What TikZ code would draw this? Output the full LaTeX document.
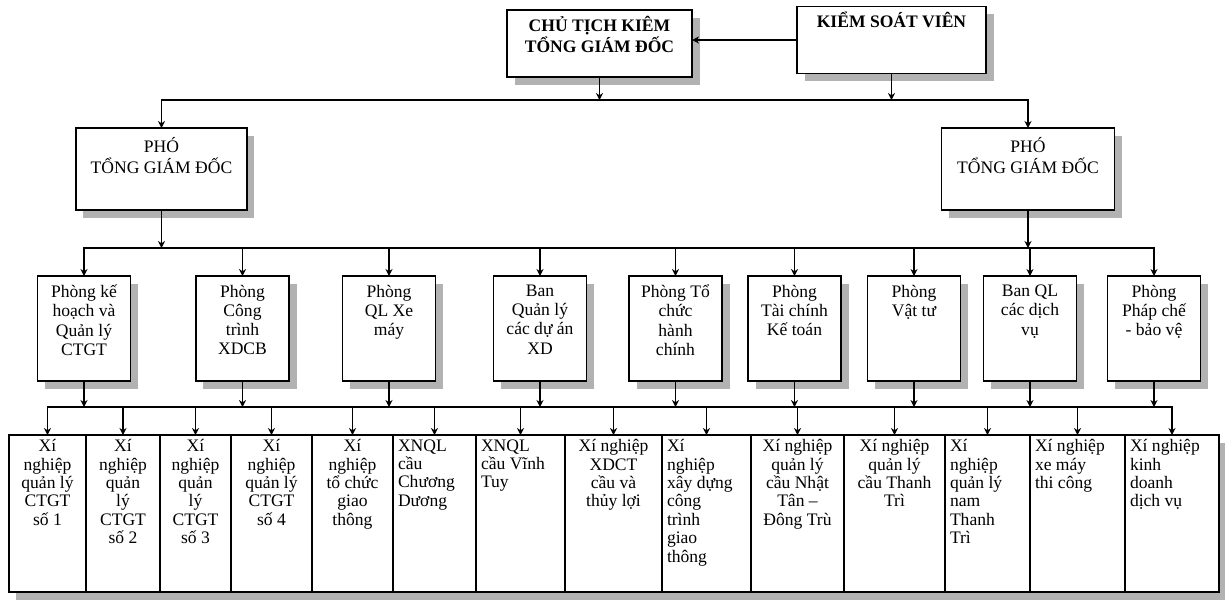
\documentclass[tikz,border=0pt]{standalone}
\usepackage{fontspec}
\setmainfont{Liberation Serif}
\usetikzlibrary{arrows.meta,shadows}
\newlength\px
\setlength\px{0.02cm}
\def\boxpad{4pt}
\newcommand{\ctext}[3]{\begin{minipage}[t][#2\px][t]{#1\px}\centering\vspace*{\boxpad}#3\end{minipage}}
\newcommand{\ltext}[3]{\begin{minipage}[t][#2\px][t]{#1\px}\raggedright\leftskip=5\px\vspace*{\boxpad}#3\end{minipage}}
\tikzset{
  every node/.style={inner sep=0pt,outer sep=0pt},
  orgbox/.style={draw,line width=1pt,fill=white,
    drop shadow={shadow xshift=0.15cm,shadow yshift=-0.15cm,fill=black!30,opacity=1}},
  headbox/.style={orgbox,font=\fontsize{10}{12}\selectfont\bfseries,
    execute at begin node={\def\boxpad{3.3pt}}},
  phobox/.style={orgbox,font=\fontsize{10}{11.5}\selectfont,
    execute at begin node={\def\boxpad{5.6pt}}},
  midbox/.style={orgbox,font=\fontsize{10}{11}\selectfont,
    execute at begin node={\def\boxpad{5pt}}},
  botbox/.style={orgbox,anchor=north west,font=\fontsize{10}{10.5}\selectfont,
    execute at begin node={\def\boxpad{2.5pt}}},
  bus/.style={line width=0.9pt,line cap=rect},
  arr/.style={-{Stealth[length=4pt,width=4pt]},line width=0.9pt},
}
\begin{document}
\begin{tikzpicture}[x=0.02cm,y=-0.02cm]
\useasboundingbox (0,0) rectangle (1225,600);
% top level
\node[headbox] (chutich) at (599.5,43.5) {\ctext{185}{67}{CHỦ TỊCH KIÊM\\TỔNG GIÁM ĐỐC}};
\node[headbox] (ksv) at (891.5,40) {\ctext{189}{67}{KIỂM SOÁT VIÊN}};
\node[phobox] (phoL) at (161.5,169) {\ctext{171}{82}{PHÓ\\TỔNG GIÁM ĐỐC}};
\node[phobox] (phoR) at (1028,169) {\ctext{173}{82}{PHÓ\\TỔNG GIÁM ĐỐC}};
% departments
\node[midbox] (m1) at (84,328.5) {\ctext{93}{105}{Phòng kế\\hoạch và\\Quản lý\\CTGT}};
\node[midbox] (m2) at (242.5,328.5) {\ctext{93}{105}{Phòng\\Công\\trình\\XDCB}};
\node[midbox] (m3) at (389,328.5) {\ctext{93}{105}{Phòng\\QL Xe\\máy}};
\node[midbox] (m4) at (540,328.5) {\ctext{93}{105}{Ban\\Quản lý\\các dự án\\XD}};
\node[midbox] (m5) at (675.5,328.5) {\ctext{93}{105}{Phòng Tổ\\chức\\hành\\chính}};
\node[midbox] (m6) at (794.5,328.5) {\ctext{93}{105}{Phòng\\Tài chính\\Kế toán}};
\node[midbox] (m7) at (914,328.5) {\ctext{93}{105}{Phòng\\Vật tư}};
\node[midbox] (m8) at (1030,328.5) {\ctext{93}{105}{Ban QL\\các dịch\\vụ}};
\node[midbox] (m9) at (1154,328.5) {\ctext{93}{105}{Phòng\\Pháp chế\\- bảo vệ}};
% enterprises
\node[botbox] (b1) at (9,435) {\ctext{77}{157}{Xí\\nghiệp\\quản lý\\CTGT\\số 1}};
\node[botbox] (b2) at (86,435) {\ctext{74}{157}{Xí\\nghiệp\\quản\\lý\\CTGT\\số 2}};
\node[botbox] (b3) at (160,435) {\ctext{71}{157}{Xí\\nghiệp\\quản\\lý\\CTGT\\số 3}};
\node[botbox] (b4) at (231,435) {\ctext{81}{157}{Xí\\nghiệp\\quản lý\\CTGT\\số 4}};
\node[botbox] (b5) at (312,435) {\ctext{81}{157}{Xí\\nghiệp\\tổ chức\\giao\\thông}};
\node[botbox] (b6) at (393,435) {\ltext{83}{157}{XNQL\\cầu\\Chương\\Dương}};
\node[botbox] (b7) at (476,435) {\ltext{89}{157}{XNQL\\cầu Vĩnh\\Tuy}};
\node[botbox] (b8) at (565,435) {\ctext{97}{157}{Xí nghiệp\\XDCT\\cầu và\\thủy lợi}};
\node[botbox] (b9) at (662,435) {\ltext{89}{157}{Xí\\nghiệp\\xây dựng\\công\\trình\\giao\\thông}};
\node[botbox] (b10) at (751,435) {\ctext{93}{157}{Xí nghiệp\\quản lý\\cầu Nhật\\Tân –\\Đông Trù}};
\node[botbox] (b11) at (844,435) {\ctext{101}{157}{Xí nghiệp\\quản lý\\cầu Thanh\\Trì}};
\node[botbox] (b12) at (945,435) {\ltext{85}{157}{Xí\\nghiệp\\quản lý\\nam\\Thanh\\Trì}};
\node[botbox] (b13) at (1030,435) {\ltext{95}{157}{Xí nghiệp\\xe máy\\thi công}};
\node[botbox] (b14) at (1125,435) {\ltext{94}{157}{Xí nghiệp\\kinh\\doanh\\dịch vụ}};
% bus lines
\coordinate (bus1) at (0,100);
\coordinate (bus2) at (0,248);
\coordinate (bus3) at (0,407);
\draw[arr] (ksv.west) -- (ksv.west -| chutich.east);
\draw[arr] (chutich.south) -- (chutich.south |- bus1);
\draw[arr] (ksv.south) -- (ksv.south |- bus1);
\draw[bus] (phoL.north |- bus1) -- (phoR.north |- bus1);
\draw[arr] (phoL.north |- bus1) -- (phoL.north);
\draw[arr] (phoR.north |- bus1) -- (phoR.north);
\draw[arr] (phoL.south) -- (phoL.south |- bus2);
\draw[arr] (phoR.south) -- (phoR.south |- bus2);
\draw[bus] (m1.north |- bus2) -- (m9.north |- bus2);
\foreach \i in {1,...,9}{
  \draw[arr] (m\i.north |- bus2) -- (m\i.north);
  \draw[arr] (m\i.south) -- (m\i.south |- bus3);
}
\draw[bus] (b1.north |- bus3) -- (b14.north |- bus3);
\foreach \j in {1,...,14}
  \draw[arr] (b\j.north |- bus3) -- (b\j.north);
\end{tikzpicture}
\end{document}
